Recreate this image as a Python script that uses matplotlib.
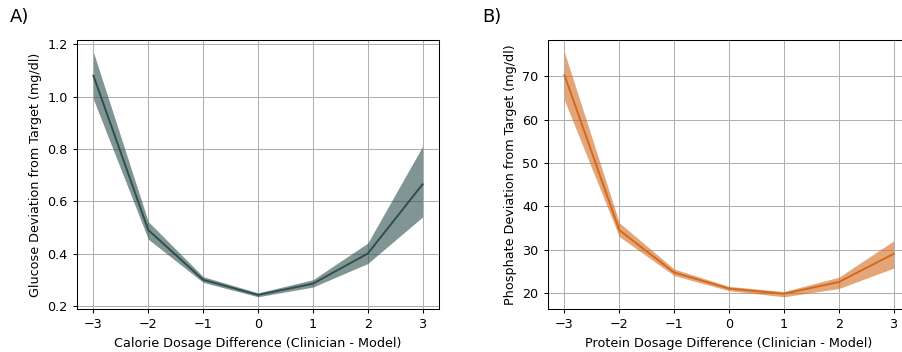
import matplotlib
matplotlib.use("Agg")
import matplotlib.pyplot as plt
import numpy as np

x_vals = [-3, -2, -1, 0, 1, 2, 3]

glucose_mean = [1.08, 0.49, 0.300, 0.242, 0.285, 0.400, 0.665]
glucose_low = [0.99, 0.455, 0.290, 0.235, 0.272, 0.362, 0.540]
glucose_high = [1.17, 0.522, 0.312, 0.250, 0.300, 0.440, 0.810]

phosphate_mean = [70.3, 34.5, 24.7, 21.0, 19.8, 22.5, 29.0]
phosphate_low = [64.5, 33.0, 24.0, 20.5, 19.1, 21.0, 25.7]
phosphate_high = [75.6, 36.2, 25.5, 21.5, 20.3, 23.6, 32.0]

panel_labels = ["A)", "B)"]
x_labels = ["Calorie Dosage Difference (Clinician - Model)",
            "Protein Dosage Difference (Clinician - Model)"]
y_labels = ["Glucose Deviation from Target (mg/dl)",
            "Phosphate Deviation from Target (mg/dl)"]
colors = ["#2F4F4F", "#D2691E"]

fs = 9.2
plt.rcParams.update({
    "font.size": fs,
    "xtick.labelsize": fs,
    "ytick.labelsize": fs,
    "axes.labelsize": fs,
    "axes.linewidth": 0.75,
    "xtick.major.width": 0.75,
    "ytick.major.width": 0.75,
    "xtick.major.size": 3.2,
    "ytick.major.size": 3.2,
})

W, H = 902, 352
fig = plt.figure(figsize=(W / 100, H / 100), dpi=100)
ax1 = fig.add_axes([77 / W, (H - 309) / H, 362 / W, 269 / H])
ax2 = fig.add_axes([548 / W, (H - 309) / H, 362 / W, 269 / H])

data = [(glucose_mean, glucose_low, glucose_high),
        (phosphate_mean, phosphate_low, phosphate_high)]

for i, ax in enumerate([ax1, ax2]):
    m, lo, hi = data[i]
    ax.fill_between(x_vals, lo, hi, color=colors[i], alpha=0.6, linewidth=0)
    ax.plot(x_vals, m, color=colors[i], linewidth=1.4)
    ax.set_xlabel(x_labels[i])
    ax.set_ylabel(y_labels[i])
    ax.set_xticks(x_vals)
    ax.grid(True, color="#b0b0b0", linewidth=0.75)
    ax.set_axisbelow(True)

ax1.set_yticks([0.2, 0.4, 0.6, 0.8, 1.0, 1.2])
ax2.set_yticks([20, 30, 40, 50, 60, 70])

fig.text(10 / W, 1 - 17 / H, panel_labels[0], fontsize=13, va="center", ha="left")
fig.text(482 / W, 1 - 17 / H, panel_labels[1], fontsize=13, va="center", ha="left")

fig.savefig("out.png", dpi=100)
